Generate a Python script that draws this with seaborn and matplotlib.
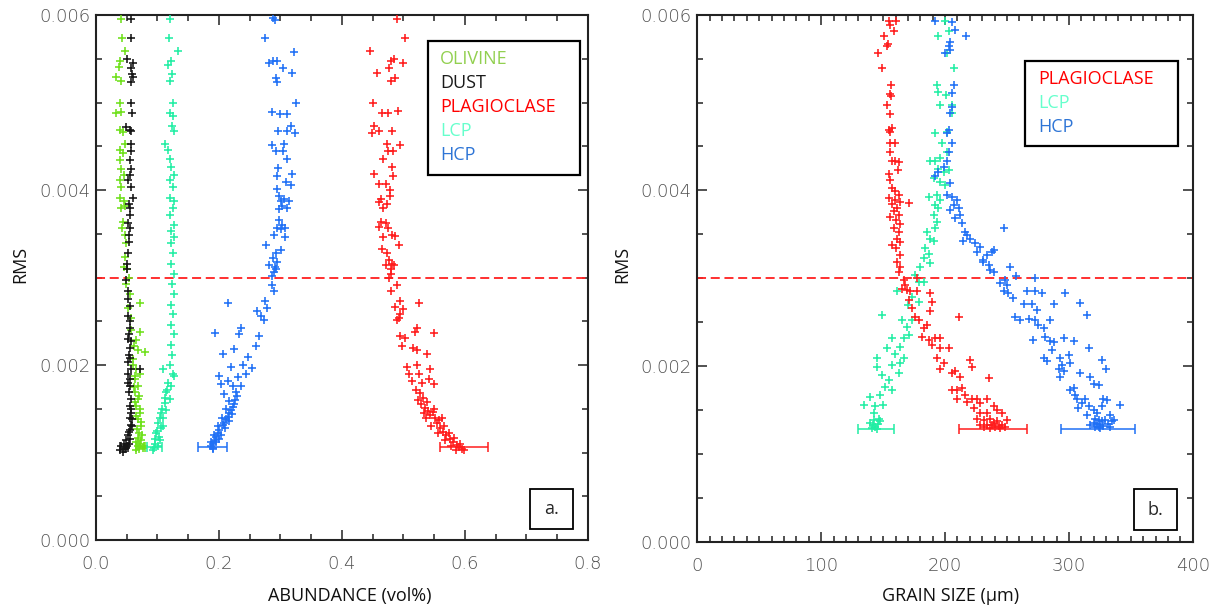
import matplotlib
matplotlib.use("Agg")
import matplotlib.pyplot as plt
import seaborn as sns
import pandas as pd
from matplotlib.ticker import MultipleLocator, FormatStrFormatter
from matplotlib.patches import Rectangle

# ---------------- DATA ----------------
# Panel a: (abundance vol fraction, RMS)
olivine_a = [
    (0.0416, 0.00595), (0.0432, 0.00574), (0.047, 0.00559), (0.040, 0.00547), (0.0383, 0.00541),
    (0.0335, 0.00529), (0.0416, 0.00525), (0.040, 0.00499), (0.0324, 0.00488), (0.0416, 0.00489),
    (0.040, 0.00469), (0.0443, 0.00466), (0.047, 0.00453), (0.040, 0.00446), (0.0443, 0.00442),
    (0.0389, 0.00434), (0.0416, 0.00424), (0.0453, 0.00417), (0.0389, 0.00411), (0.0416, 0.00403),
    (0.0389, 0.00391), (0.0453, 0.00388), (0.0416, 0.0038), (0.047, 0.00382), (0.0443, 0.00364),
    (0.0432, 0.00357), (0.047, 0.00349), (0.0497, 0.00339), (0.047, 0.00324), (0.0453, 0.00312),
    (0.0486, 0.00293), (0.0551, 0.00281), (0.0713, 0.00271), (0.0524, 0.00265), (0.0578, 0.00254),
    (0.0713, 0.00238), (0.0659, 0.00229), (0.0794, 0.00215), (0.0686, 0.00217), (0.0605, 0.00207),
    (0.0659, 0.00196), (0.0713, 0.0019), (0.0632, 0.00184), (0.0686, 0.00176), (0.0632, 0.00169),
    (0.0686, 0.00161), (0.0659, 0.00153), (0.0713, 0.00145), (0.0686, 0.00138), (0.074, 0.0013),
    (0.0702, 0.00122), (0.074, 0.00114), (0.0686, 0.00107), (0.0766, 0.00105), (0.0659, 0.00103),
    (0.062, 0.00175), (0.070, 0.00165), (0.064, 0.00158), (0.072, 0.0015), (0.065, 0.00142),
    (0.073, 0.00135), (0.067, 0.00127), (0.075, 0.0012), (0.068, 0.00117), (0.072, 0.0011),
    (0.066, 0.00112), (0.070, 0.00104), (0.078, 0.00108), (0.060, 0.002), (0.064, 0.00188),
    (0.058, 0.0024), (0.062, 0.00222), (0.054, 0.003), (0.050, 0.0031),
]
dust_a = [
    (0.0567, 0.00595), (0.0567, 0.00574), (0.0508, 0.0055), (0.0605, 0.00545), (0.0578, 0.00539),
    (0.0583, 0.00533), (0.0605, 0.00529), (0.0578, 0.00524), (0.0578, 0.00499), (0.0594, 0.00488),
    (0.0491, 0.00472), (0.0578, 0.00467), (0.0551, 0.00469), (0.0578, 0.00453), (0.0578, 0.00444),
    (0.0551, 0.00434), (0.0578, 0.00424), (0.0551, 0.00417), (0.0524, 0.00411), (0.0578, 0.00403),
    (0.0605, 0.00391), (0.054, 0.00384), (0.0562, 0.0038), (0.0551, 0.00372), (0.0524, 0.00362),
    (0.0562, 0.00357), (0.054, 0.00349), (0.054, 0.00341), (0.0524, 0.00328), (0.0508, 0.00316),
    (0.0497, 0.00297), (0.0524, 0.00275), (0.0562, 0.00267), (0.0524, 0.00256), (0.0551, 0.00242),
    (0.054, 0.00235), (0.0578, 0.00227), (0.0551, 0.00219), (0.054, 0.00211), (0.0524, 0.00203),
    (0.0578, 0.00196), (0.0713, 0.00196), (0.0524, 0.0019), (0.0551, 0.00184), (0.0562, 0.00176),
    (0.054, 0.00169), (0.0578, 0.00161), (0.0551, 0.00153), (0.0578, 0.00145), (0.0594, 0.00138),
    (0.0578, 0.00132), (0.0562, 0.00126), (0.0524, 0.0012), (0.0497, 0.00114), (0.0453, 0.0011),
    (0.0416, 0.00107), (0.0486, 0.00105), (0.0443, 0.00101), (0.054, 0.0011), (0.0562, 0.00116),
    (0.0389, 0.00103), (0.050, 0.0031), (0.053, 0.00285), (0.056, 0.0025), (0.052, 0.0023),
    (0.056, 0.00208), (0.053, 0.0018), (0.057, 0.0015), (0.056, 0.0014), (0.059, 0.0013),
    (0.054, 0.00123), (0.050, 0.00108), (0.047, 0.00104),
]
plag_a = [
    (0.4896, 0.00596), (0.503, 0.00574), (0.445, 0.00559), (0.484, 0.0055), (0.480, 0.00547),
    (0.499, 0.00545), (0.457, 0.00534), (0.476, 0.00539), (0.479, 0.00525), (0.486, 0.00528),
    (0.451, 0.005), (0.465, 0.00488), (0.475, 0.00488), (0.491, 0.0049), (0.452, 0.00473),
    (0.449, 0.00465), (0.460, 0.00467), (0.481, 0.00468), (0.473, 0.00453), (0.495, 0.00452),
    (0.483, 0.00445), (0.475, 0.00445), (0.466, 0.00436), (0.481, 0.00426), (0.452, 0.00418),
    (0.483, 0.00416), (0.460, 0.00407), (0.472, 0.00407), (0.478, 0.004), (0.478, 0.00393),
    (0.463, 0.0039), (0.460, 0.00386), (0.473, 0.00384), (0.467, 0.0038), (0.463, 0.00364),
    (0.471, 0.00362), (0.460, 0.00358), (0.475, 0.00357), (0.481, 0.00349), (0.467, 0.00346),
    (0.486, 0.00347), (0.492, 0.00337), (0.465, 0.00333), (0.473, 0.00328), (0.476, 0.0032),
    (0.481, 0.00316), (0.471, 0.00314), (0.479, 0.0031), (0.484, 0.00314), (0.479, 0.00304),
    (0.477, 0.003), (0.489, 0.00291), (0.479, 0.00285), (0.495, 0.00273), (0.526, 0.00271),
    (0.486, 0.00266), (0.499, 0.00264), (0.494, 0.00258), (0.490, 0.00252), (0.492, 0.00254),
    (0.522, 0.00242), (0.519, 0.00238), (0.549, 0.00237), (0.494, 0.00233), (0.503, 0.00231),
    (0.498, 0.00222), (0.516, 0.00219), (0.538, 0.00213), (0.522, 0.00217), (0.506, 0.00198),
    (0.522, 0.002), (0.544, 0.00196), (0.509, 0.0019), (0.525, 0.0019), (0.541, 0.00184),
    (0.514, 0.00182), (0.530, 0.0018), (0.549, 0.00178), (0.527, 0.00168), (0.535, 0.00151),
    (0.544, 0.00143), (0.554, 0.00134), (0.565, 0.00124), (0.576, 0.00115), (0.587, 0.00109),
    (0.595, 0.00104), (0.520, 0.00172), (0.532, 0.00162), (0.538, 0.00158), (0.529, 0.00155),
    (0.540, 0.00148), (0.548, 0.00146), (0.537, 0.0014), (0.551, 0.00139), (0.558, 0.00137),
    (0.545, 0.0013), (0.560, 0.00128), (0.566, 0.0013), (0.556, 0.00122), (0.570, 0.0012),
    (0.574, 0.00122), (0.568, 0.00114), (0.580, 0.00112), (0.582, 0.00117), (0.578, 0.00107),
    (0.590, 0.00106), (0.586, 0.00103), (0.598, 0.00103), (0.592, 0.0011), (0.533, 0.00145),
    (0.524, 0.0016), (0.550, 0.0015), (0.562, 0.0014),
]
lcp_a = [
    (0.1198, 0.00595), (0.1188, 0.00574), (0.1344, 0.00559), (0.1225, 0.00547), (0.117, 0.00543),
    (0.1241, 0.00533), (0.1209, 0.00525), (0.1252, 0.00499), (0.1209, 0.00488), (0.1252, 0.00485),
    (0.1241, 0.00473), (0.1263, 0.00467), (0.1117, 0.00453), (0.1171, 0.00446), (0.1198, 0.00436),
    (0.1225, 0.00426), (0.1263, 0.00417), (0.1198, 0.00411), (0.1252, 0.00403), (0.1209, 0.00391),
    (0.1263, 0.00388), (0.1252, 0.0038), (0.1198, 0.00372), (0.1279, 0.0036), (0.1225, 0.00353),
    (0.1263, 0.00346), (0.1225, 0.00339), (0.1252, 0.00328), (0.1225, 0.00316), (0.1263, 0.00304),
    (0.1241, 0.00293), (0.1263, 0.00281), (0.1225, 0.00269), (0.1252, 0.00258), (0.1225, 0.00246),
    (0.1263, 0.00235), (0.1225, 0.00223), (0.1241, 0.00211), (0.1198, 0.002), (0.109, 0.00196),
    (0.1252, 0.0019), (0.1171, 0.0018), (0.1144, 0.00169), (0.1117, 0.00157), (0.1063, 0.00145),
    (0.1009, 0.00134), (0.0982, 0.00122), (0.0955, 0.0011), (0.0928, 0.00103), (0.1009, 0.00107),
    (0.1036, 0.00114), (0.109, 0.0013), (0.1144, 0.00149), (0.1198, 0.00161), (0.1225, 0.00176),
    (0.1279, 0.00188), (0.104, 0.0014), (0.108, 0.0015), (0.112, 0.00162), (0.116, 0.00172),
    (0.100, 0.00125), (0.097, 0.00115), (0.095, 0.00105), (0.110, 0.0014), (0.106, 0.00128),
    (0.102, 0.00118),
]
hcp_a = [
    (0.2883, 0.00597), (0.291, 0.00594), (0.2748, 0.00574), (0.3228, 0.00558), (0.2818, 0.00545),
    (0.2883, 0.00547), (0.2942, 0.00548), (0.305, 0.00539), (0.3185, 0.00534), (0.2936, 0.00528),
    (0.2942, 0.00524), (0.325, 0.00499), (0.2861, 0.00489), (0.2991, 0.00487), (0.3115, 0.00487),
    (0.3169, 0.00473), (0.2964, 0.00468), (0.3115, 0.00467), (0.3234, 0.00465), (0.2861, 0.00452),
    (0.3066, 0.00453), (0.2926, 0.00445), (0.3045, 0.00445), (0.3115, 0.00435), (0.2964, 0.00425),
    (0.2942, 0.00416), (0.3196, 0.00418), (0.3098, 0.00409), (0.3169, 0.00406), (0.2942, 0.00401),
    (0.298, 0.00393), (0.3007, 0.00388), (0.3061, 0.0039), (0.3142, 0.00388), (0.3034, 0.00382),
    (0.3115, 0.0038), (0.298, 0.00378), (0.298, 0.00366), (0.3034, 0.0036), (0.2953, 0.00357),
    (0.3077, 0.00357), (0.3007, 0.00355), (0.2899, 0.00349), (0.3077, 0.00346), (0.2774, 0.00337),
    (0.3007, 0.00331), (0.2926, 0.00328), (0.2883, 0.00322), (0.2953, 0.00318), (0.2818, 0.00314),
    (0.291, 0.00312), (0.2899, 0.00306), (0.2871, 0.00302), (0.2926, 0.0031), (0.2861, 0.00291),
    (0.2899, 0.00285), (0.2143, 0.00271), (0.2753, 0.00273), (0.279, 0.00265), (0.2628, 0.00262),
    (0.2683, 0.00256), (0.2737, 0.00252), (0.2359, 0.00242), (0.2332, 0.00236), (0.1943, 0.00237),
    (0.2656, 0.00233), (0.2602, 0.00222), (0.2251, 0.00218), (0.2062, 0.00213), (0.2466, 0.00209),
    (0.2197, 0.00198), (0.2386, 0.002), (0.2537, 0.00197), (0.2008, 0.00188), (0.2143, 0.00182),
    (0.2305, 0.00186), (0.244, 0.0019), (0.2035, 0.00178), (0.2224, 0.00176), (0.2359, 0.00176),
    (0.2089, 0.00167), (0.2278, 0.00169), (0.217, 0.00159), (0.2251, 0.00155), (0.2197, 0.00149),
    (0.2143, 0.00141), (0.2089, 0.00134), (0.2008, 0.00126), (0.1954, 0.00118), (0.190, 0.0011),
    (0.190, 0.00105), (0.223, 0.00152), (0.217, 0.00145), (0.212, 0.00138), (0.206, 0.00131),
    (0.199, 0.00122), (0.193, 0.00114), (0.188, 0.00108), (0.196, 0.00112), (0.203, 0.0012),
    (0.210, 0.00128), (0.216, 0.00136), (0.222, 0.00144), (0.205, 0.0014), (0.198, 0.0013),
    (0.192, 0.0012), (0.187, 0.00112), (0.191, 0.00104), (0.201, 0.00116), (0.211, 0.0015),
    (0.226, 0.0016), (0.229, 0.00165),
]
# error bars panel a: centre, half width, RMS level
err_a_names = ["OLIVINE", "DUST", "PLAGIOCLASE", "LCP", "HCP"]
err_a_center = [0.0725, 0.046, 0.598, 0.0955, 0.190]
err_a_half = [0.0075, 0.006, 0.039, 0.0125, 0.024]
err_a_rms = [0.00106, 0.00106, 0.00106, 0.00106, 0.00106]

# Panel b: (grain size um, RMS)
plag_b = [
    (154.4, 0.00593), (160.6, 0.00593), (155.7, 0.00588), (159.0, 0.00581), (150.9, 0.00576),
    (153.9, 0.00567), (153.1, 0.00564), (145.8, 0.00556), (149.5, 0.00539), (156.3, 0.0052),
    (155.2, 0.0051), (156.6, 0.00508), (153.1, 0.00497), (155.7, 0.00487), (154.4, 0.00469),
    (155.7, 0.00466), (157.1, 0.00471), (155.2, 0.00454), (159.8, 0.00454), (155.7, 0.00444),
    (157.1, 0.00434), (162.5, 0.00432), (159.8, 0.00433), (161.7, 0.00423), (154.4, 0.00419),
    (155.7, 0.00412), (157.1, 0.00403), (159.8, 0.00399), (162.5, 0.00395), (154.4, 0.00391),
    (159.8, 0.00389), (163.9, 0.00387), (157.1, 0.00384), (161.1, 0.0038), (158.4, 0.00376),
    (162.5, 0.00372), (155.7, 0.0037), (160.6, 0.00366), (163.9, 0.00362), (159.0, 0.00357),
    (162.5, 0.00353), (161.1, 0.00345), (157.1, 0.00338), (163.9, 0.00341), (160.6, 0.00334),
    (163.3, 0.00326), (161.1, 0.00319), (163.9, 0.00313), (162.5, 0.00307), (170.5, 0.00386),
    (166.5, 0.00298), (167.9, 0.00292), (165.2, 0.00288), (169.3, 0.00287), (171.9, 0.00285),
    (177.3, 0.00285), (170.5, 0.00275), (173.3, 0.00266), (175.9, 0.00256), (178.7, 0.00252),
    (182.7, 0.00243), (185.3, 0.00247), (181.3, 0.00233), (186.7, 0.0023), (192.1, 0.00232),
    (189.4, 0.00224), (196.1, 0.00232), (202.8, 0.0022), (193.5, 0.00209), (198.8, 0.00203),
    (210.9, 0.00256), (188.1, 0.00283), (189.4, 0.00273), (187.5, 0.00263), (177.3, 0.003),
    (196.1, 0.0022), (205.5, 0.00192), (208.2, 0.00194), (212.3, 0.00188), (220.3, 0.00207),
    (221.7, 0.00199), (235.1, 0.00186), (196.1, 0.00197), (205.5, 0.00173), (209.6, 0.00173),
    (213.7, 0.00175), (216.3, 0.00167), (209.6, 0.00163), (217.7, 0.00159), (221.7, 0.00163),
    (225.7, 0.00163), (228.4, 0.00158), (233.8, 0.00163), (223.0, 0.00152), (228.4, 0.00146),
    (233.8, 0.00146), (239.2, 0.00154), (241.8, 0.0015), (245.9, 0.00146), (250.0, 0.00139),
    (231.1, 0.00139), (236.5, 0.0014), (225.7, 0.0014), (233.8, 0.00133), (237.8, 0.00133),
    (240.5, 0.00131), (243.2, 0.00132), (245.9, 0.00133), (239.2, 0.00135), (241.8, 0.00137),
    (236.5, 0.0013), (244.6, 0.0013), (231.1, 0.00131), (248.6, 0.00131), (228.4, 0.00133),
]
lcp_b = [
    (200.1, 0.00593), (194.0, 0.00576), (202.8, 0.00581), (201.5, 0.00556), (206.9, 0.00539),
    (193.5, 0.0052), (194.7, 0.00512), (200.9, 0.00509), (205.5, 0.00497), (196.1, 0.00497),
    (205.5, 0.00488), (192.1, 0.00465), (201.5, 0.00467), (197.5, 0.00454), (201.5, 0.00444),
    (196.1, 0.00437), (192.1, 0.00433), (188.1, 0.00433), (194.0, 0.00424), (198.8, 0.00421),
    (202.8, 0.00423), (190.7, 0.00414), (196.1, 0.0041), (200.1, 0.00406), (186.7, 0.00393),
    (193.5, 0.00395), (196.1, 0.00389), (192.1, 0.00383), (194.7, 0.0038), (190.7, 0.00372),
    (193.5, 0.00364), (192.1, 0.00357), (185.3, 0.00353), (188.1, 0.00345), (190.7, 0.00342),
    (184.0, 0.00334), (186.7, 0.00328), (182.7, 0.00323), (188.1, 0.00317), (179.9, 0.00313),
    (175.9, 0.00304), (178.6, 0.00296), (182.7, 0.00296), (161.2, 0.00285), (173.3, 0.00279),
    (178.6, 0.00273), (169.7, 0.00269), (149.1, 0.00258), (165.2, 0.00252), (169.3, 0.00245),
    (173.3, 0.00252), (170.5, 0.00235), (166.5, 0.00232), (157.1, 0.00232), (163.9, 0.00222),
    (153.1, 0.0022), (159.8, 0.00214), (166.5, 0.00209), (145.0, 0.00209), (157.1, 0.00201),
    (163.9, 0.00203), (145.0, 0.00199), (149.1, 0.0019), (162.5, 0.00192), (154.4, 0.00184),
    (151.7, 0.00176), (157.1, 0.00173), (139.6, 0.00165), (147.7, 0.00167), (134.2, 0.00156),
    (143.7, 0.00154), (150.3, 0.00156), (142.3, 0.00146), (146.3, 0.0014), (139.6, 0.00135),
    (143.7, 0.00131), (147.7, 0.00137), (141.0, 0.00129), (145.0, 0.00128), (141.7, 0.00133),
    (145.6, 0.00134), (142.7, 0.00138),
]
hcp_b = [
    (192.1, 0.00593), (205.5, 0.00592), (208.2, 0.00583), (217.1, 0.00576), (204.2, 0.00569),
    (202.8, 0.00564), (200.1, 0.00556), (204.2, 0.0056), (206.9, 0.0052), (205.5, 0.00511),
    (205.5, 0.00495), (204.2, 0.00488), (202.8, 0.00469), (201.5, 0.00465), (205.5, 0.00454),
    (202.8, 0.00444), (201.5, 0.00433), (198.8, 0.00427), (194.7, 0.00421), (192.1, 0.00416),
    (204.2, 0.00408), (201.5, 0.00395), (205.5, 0.00393), (209.6, 0.00389), (206.9, 0.00383),
    (204.2, 0.00378), (210.9, 0.0038), (212.3, 0.00372), (208.2, 0.00368), (213.7, 0.00363),
    (216.3, 0.00353), (217.7, 0.00349), (214.5, 0.00342), (220.3, 0.00345), (224.4, 0.0034),
    (228.4, 0.00336), (225.7, 0.0033), (231.0, 0.00319), (233.8, 0.00326), (237.8, 0.0033),
    (235.1, 0.00315), (239.2, 0.00307), (247.2, 0.00357), (252.6, 0.00313), (236.5, 0.00309),
    (239.2, 0.00332), (231.0, 0.00321), (257.4, 0.00302), (248.6, 0.00298), (244.6, 0.00294),
    (250.0, 0.00292), (247.2, 0.00285), (251.2, 0.00283), (255.2, 0.00277), (266.0, 0.00285),
    (272.8, 0.00285), (278.2, 0.00283), (272.8, 0.003), (263.4, 0.00271), (270.2, 0.00271),
    (274.2, 0.00264), (287.6, 0.00271), (297.0, 0.00283), (309.1, 0.00272), (314.5, 0.00258),
    (256.6, 0.00256), (260.6, 0.00252), (267.4, 0.00254), (272.8, 0.00252), (275.4, 0.00247),
    (279.5, 0.00243), (284.9, 0.00252), (271.4, 0.0023), (280.8, 0.00233), (284.9, 0.00228),
    (287.6, 0.00227), (286.2, 0.00218), (295.7, 0.00232), (303.7, 0.00228), (315.9, 0.00221),
    (279.5, 0.00209), (282.2, 0.00206), (293.0, 0.00209), (294.3, 0.00201), (299.7, 0.00213),
    (301.0, 0.00203), (309.1, 0.00192), (295.7, 0.00194), (293.0, 0.00188), (291.6, 0.00197),
    (326.6, 0.00207), (330.1, 0.00197), (317.1, 0.00188), (323.9, 0.00178), (319.9, 0.0018),
    (301.0, 0.00173), (303.7, 0.00175), (305.1, 0.00167), (306.4, 0.00163), (310.5, 0.00158),
    (313.1, 0.00163), (315.9, 0.00154), (307.7, 0.00152), (327.9, 0.00163), (330.7, 0.00161),
    (326.6, 0.00154), (341.3, 0.00156), (319.9, 0.0015), (322.5, 0.00146), (314.5, 0.00144),
    (333.3, 0.00144), (321.2, 0.0014), (323.9, 0.00139), (326.6, 0.00137), (325.3, 0.00133),
    (322.5, 0.00134), (327.9, 0.00132), (319.9, 0.00135), (329.3, 0.00138), (323.9, 0.00131),
    (331.9, 0.00134), (334.7, 0.00137), (317.1, 0.00133), (325.3, 0.00129), (321.2, 0.00131),
    (336.0, 0.00139), (333.3, 0.00131),
]
err_b_names = ["PLAGIOCLASE", "LCP", "HCP"]
err_b_center = [238.9, 144.3, 323.5]
err_b_half = [27.4, 14.3, 29.5]
err_b_rms = [0.00128, 0.00128, 0.00128]

legend_a = ["OLIVINE", "DUST", "PLAGIOCLASE", "LCP", "HCP"]
legend_b = ["PLAGIOCLASE", "LCP", "HCP"]

# ---------------- STYLE ----------------
point_col = {"OLIVINE": "#6ee01a", "DUST": "#151515", "PLAGIOCLASE": "#ff1c1c",
             "LCP": "#22eea4", "HCP": "#1f70f5"}
text_col = {"OLIVINE": "#92d050", "DUST": "#1a1a1a", "PLAGIOCLASE": "#ff0000",
            "LCP": "#66ffcc", "HCP": "#2e75d6"}

sns.set_style("ticks")
plt.rcParams["font.family"] = ["Open Sans", "DejaVu Sans"]

fig = plt.figure(figsize=(12.17, 6.08), dpi=100)
axA = fig.add_axes([95.8 / 1217, (608 - 540) / 608, 492.2 / 1217, 525 / 608])
axB = fig.add_axes([697.3 / 1217, (608 - 541.7) / 608, 495.5 / 1217, 527 / 608])


def scatter(ax, pairs, name, xcol):
    df = pd.DataFrame(pairs, columns=[xcol, "RMS"])
    sns.scatterplot(data=df, x=xcol, y="RMS", marker="+", s=36, linewidth=1.15,
                    color=point_col[name], ax=ax, legend=False, zorder=3)


scatter(axA, olivine_a, "OLIVINE", "abund")
scatter(axA, dust_a, "DUST", "abund")
scatter(axA, lcp_a, "LCP", "abund")
scatter(axA, hcp_a, "HCP", "abund")
scatter(axA, plag_a, "PLAGIOCLASE", "abund")

scatter(axB, lcp_b, "LCP", "grain")
scatter(axB, hcp_b, "HCP", "grain")
scatter(axB, plag_b, "PLAGIOCLASE", "grain")

for n, c, h, r in zip(err_a_names, err_a_center, err_a_half, err_a_rms):
    axA.errorbar(c, r, xerr=h, fmt="none", ecolor=point_col[n], elinewidth=1.1,
                 capsize=3.3, capthick=1.1, zorder=4)
for n, c, h, r in zip(err_b_names, err_b_center, err_b_half, err_b_rms):
    axB.errorbar(c, r, xerr=h, fmt="none", ecolor=point_col[n], elinewidth=1.1,
                 capsize=3.3, capthick=1.1, zorder=4)

for ax in (axA, axB):
    ax.axhline(0.003, color="#ff2020", lw=1.3, ls=(0, (5, 2.6)), zorder=2)
    ax.set_ylim(0, 0.006)
    ax.yaxis.set_major_locator(MultipleLocator(0.002))
    ax.yaxis.set_minor_locator(MultipleLocator(0.0005))
    ax.yaxis.set_major_formatter(FormatStrFormatter("%.3f"))
    ax.set_xlabel("")
    ax.set_ylabel("")
    ax.tick_params(which="both", direction="in", top=True, right=True,
                   color="#222222", width=1.1, labelsize=13, labelcolor="#505050")
    ax.tick_params(which="major", length=7.5)
    ax.tick_params(which="minor", length=4)
    ax.tick_params(axis="x", pad=11)
    ax.tick_params(axis="y", pad=4)
    for sp in ax.spines.values():
        sp.set_linewidth(1.5)
        sp.set_color("#222222")
    ax.set_facecolor("white")

axA.set_xlim(0, 0.8)
axA.xaxis.set_major_locator(MultipleLocator(0.2))
axA.xaxis.set_minor_locator(MultipleLocator(0.05))
axA.xaxis.set_major_formatter(FormatStrFormatter("%.1f"))

axB.set_xlim(0, 400)
axB.xaxis.set_major_locator(MultipleLocator(100))
axB.xaxis.set_minor_locator(MultipleLocator(10))
axB.xaxis.set_major_formatter(FormatStrFormatter("%d"))

for ax in (axA, axB):
    for lbl in ax.get_xticklabels() + ax.get_yticklabels():
        lbl.set_fontfamily("DejaVu Sans")
        lbl.set_fontweight("light")

# legend boxes
axA.add_patch(Rectangle((0.675, 0.695), 0.309, 0.255, transform=axA.transAxes,
                        fc="white", ec="black", lw=1.6, zorder=6))
for name, yy in zip(legend_a, [0.916, 0.870, 0.825, 0.779, 0.733]):
    axA.text(0.699, yy, name, transform=axA.transAxes, color=text_col[name],
             fontsize=13, va="center", ha="left", zorder=7)

axB.add_patch(Rectangle((0.661, 0.751), 0.309, 0.161, transform=axB.transAxes,
                        fc="white", ec="black", lw=1.6, zorder=6))
for name, yy in zip(legend_b, [0.878, 0.832, 0.787]):
    axB.text(0.688, yy, name, transform=axB.transAxes, color=text_col[name],
             fontsize=13, va="center", ha="left", zorder=7)

# panel tags
axA.add_patch(Rectangle((0.882, 0.021), 0.088, 0.076, transform=axA.transAxes,
                        fc="white", ec="black", lw=1.3, zorder=6))
axA.text(0.926, 0.059, "a.", transform=axA.transAxes, fontsize=13, ha="center",
         va="center", zorder=7)
axB.add_patch(Rectangle((0.881, 0.022), 0.087, 0.078, transform=axB.transAxes,
                        fc="white", ec="black", lw=1.3, zorder=6))
axB.text(0.9245, 0.061, "b.", transform=axB.transAxes, fontsize=13, ha="center",
         va="center", zorder=7)

# axis titles
fig.text(349.5 / 1217, 1 - 596 / 608, "ABUNDANCE (vol%)", ha="center", va="center",
         fontsize=13, color="#111111")
fig.text(951 / 1217, 1 - 596 / 608, "GRAIN SIZE (\u00b5m)", ha="center", va="center",
         fontsize=13, color="#111111")
fig.text(20 / 1217, 1 - 264 / 608, "RMS", ha="center", va="center", rotation=90,
         fontsize=13, color="#111111")
fig.text(622 / 1217, 1 - 264 / 608, "RMS", ha="center", va="center", rotation=90,
         fontsize=13, color="#111111")

fig.savefig("out.png", dpi=100, facecolor="white")
